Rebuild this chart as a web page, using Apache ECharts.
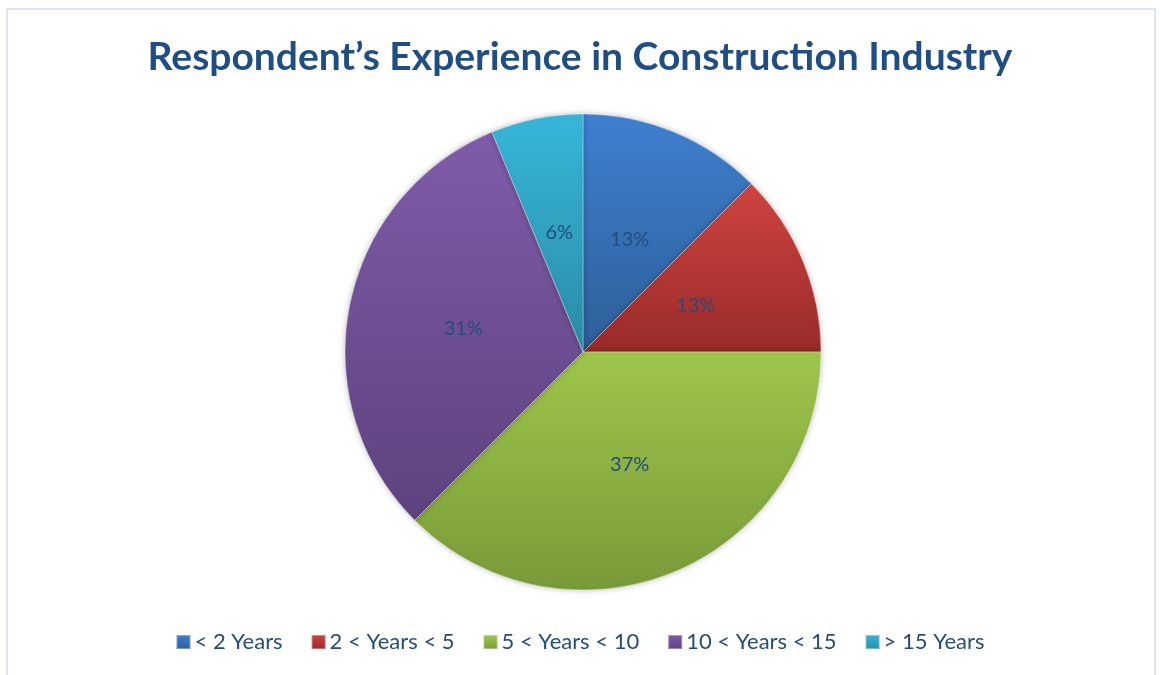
<!DOCTYPE html>
<html>
<head>
<meta charset="utf-8">
<script src="https://cdn.jsdelivr.net/npm/echarts@6/dist/echarts.min.js"></script>
<style>
    html, body { margin: 0; padding: 0; background: #fff; }
    #frame {
        position: absolute; left: 6px; top: 8px; width: 1150px; height: 680px;
        border: 2px solid #dae6f5; box-sizing: border-box;
    }
    #main { position: absolute; left: 0; top: 0; width: 1160px; height: 675px; }
</style>
</head>
<body>
<div id="frame"></div>
<div id="main"></div>
<script>
// experience groups, clockwise from 12 o'clock
const categories = ['< 2 Years', '2 < Years < 5', '5 < Years < 10', '10 < Years < 15', '> 15 Years'];
// shares (labels round to 13/13/37/31/6)
const shares = [12.5, 12.5, 37.5, 31.25, 6.25];
// gradient stops per slice: [top, bottom]
const sliceColors = [
    ['#3e80d0', '#2e5e98'],
    ['#cf4441', '#982b29'],
    ['#9fc64b', '#799a39'],
    ['#7f5ca9', '#5e427e'],
    ['#37b6da', '#2a8ca6']
];

let myChart = echarts.init(document.getElementById('main'));
let option = {
    animation: false,
    title: {
        text: 'Respondent\u2019s Experience in Construction Industry',
        left: 'center',
        top: 33,
        textStyle: {
            fontFamily: 'Lato',
            fontWeight: 'bold',
            fontSize: 39,
            color: '#1f4e85'
        }
    },
    legend: {
        bottom: 17,
        left: 'center',
        icon: 'rect',
        itemWidth: 14,
        itemHeight: 14,
        itemGap: 28,
        textStyle: { fontFamily: 'Lato', fontSize: 22, color: '#244d7e', padding: [0, 0, 0, -1] },
        data: categories
    },
    series: [
        {
            type: 'pie',
            center: [583, 352],
            radius: 238,
            startAngle: 90,
            clockwise: true,
            percentPrecision: 0,
            label: {
                position: 'inside',
                formatter: '{d}%',
                fontFamily: 'Lato',
                fontSize: 20,
                color: '#244d7e'
            },
            labelLine: { show: false },
            itemStyle: {
                borderColor: 'rgba(255,255,255,0.35)',
                borderWidth: 1,
                shadowBlur: 6,
                shadowColor: 'rgba(0,0,0,0.25)'
            },
            data: categories.map((name, i) => ({
                name: name,
                value: shares[i],
                itemStyle: {
                    color: new echarts.graphic.LinearGradient(0, 0, 0, 1, [
                        { offset: 0, color: sliceColors[i][0] },
                        { offset: 1, color: sliceColors[i][1] }
                    ])
                }
            }))
        }
    ]
};
myChart.setOption(option);
</script>
</body>
</html>
